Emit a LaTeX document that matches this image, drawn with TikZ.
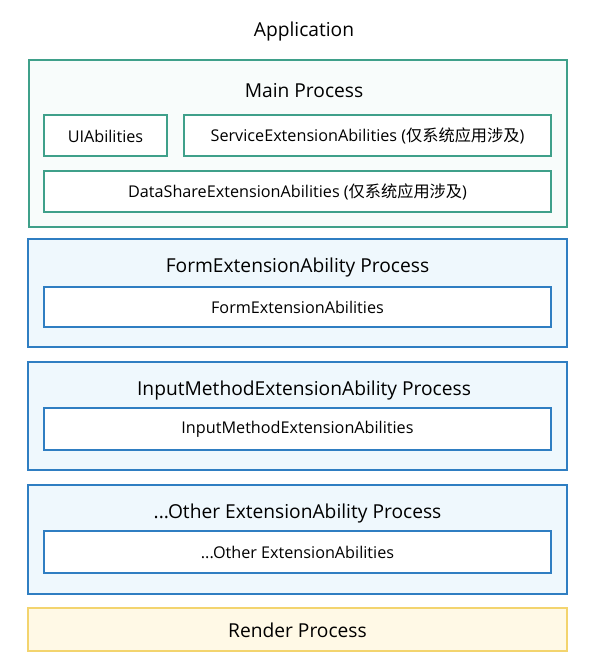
\documentclass[tikz,border=0pt]{standalone}
\usepackage{fontspec}
\setmainfont{Open Sans}
\newfontfamily\cjk{Noto Sans CJK SC}
\definecolor{grn}{HTML}{3FA08A}
\definecolor{grnfill}{HTML}{F8FCFB}
\definecolor{blu}{HTML}{2F7EC2}
\definecolor{blufill}{HTML}{EFF8FD}
\definecolor{ylw}{HTML}{F3D46E}
\definecolor{ylwfill}{HTML}{FFF9E6}
\begin{document}
\begin{tikzpicture}[x=1pt,y=-1pt,
  outer/.style={line width=1.6pt},
  inner/.style={draw,line width=1.6pt,fill=white},
  title/.style={font=\fontsize{19.2}{22}\selectfont,text=black},
  label/.style={font=\fontsize{16.2}{19}\selectfont,text=black}]
\useasboundingbox (0,0) rectangle (600,672);
\node[title] (app) at (304,32) {Application};
% Main process
\draw[outer,draw=grn,fill=grnfill] (29,60) rectangle (567,227);
\node[title] (mainT) at (304,91) {Main Process};
\draw[inner,draw=grn] (44,115) rectangle (167,156);
\node[label] (ui) at (105.5,136) {UIAbilities};
\draw[inner,draw=grn] (184,115) rectangle (551,156);
\node[label] (svc) at (367.5,136) {ServiceExtensionAbilities ({\cjk 仅系统应用涉及})};
\draw[inner,draw=grn] (44,171) rectangle (551,212);
\node[label] (ds) at (297.5,192) {DataShareExtensionAbilities ({\cjk 仅系统应用涉及})};
% Form
\draw[outer,draw=blu,fill=blufill] (28,239) rectangle (567,347);
\node[title] (formT) at (297.5,268) {FormExtensionAbility Process};
\draw[inner,draw=blu] (44,287) rectangle (551,327);
\node[label] (form) at (297.5,307.5) {FormExtensionAbilities};
% Input method
\draw[outer,draw=blu,fill=blufill] (28,362) rectangle (567,470);
\node[title] (imT) at (304,391) {InputMethodExtensionAbility Process};
\draw[inner,draw=blu] (44,408) rectangle (551,450);
\node[label] (im) at (297.5,429.5) {InputMethodExtensionAbilities};
% Other
\draw[outer,draw=blu,fill=blufill] (28,485) rectangle (567,594);
\node[title] (otT) at (297.5,514) {...Other ExtensionAbility Process};
\draw[inner,draw=blu] (44,531) rectangle (551,573);
\node[label] (ot) at (297.5,552.5) {...Other ExtensionAbilities};
% Render
\draw[outer,draw=ylw,fill=ylwfill] (28,608) rectangle (567,651);
\node[title] (rend) at (297.5,630.5) {Render Process};
\end{tikzpicture}
\end{document}
